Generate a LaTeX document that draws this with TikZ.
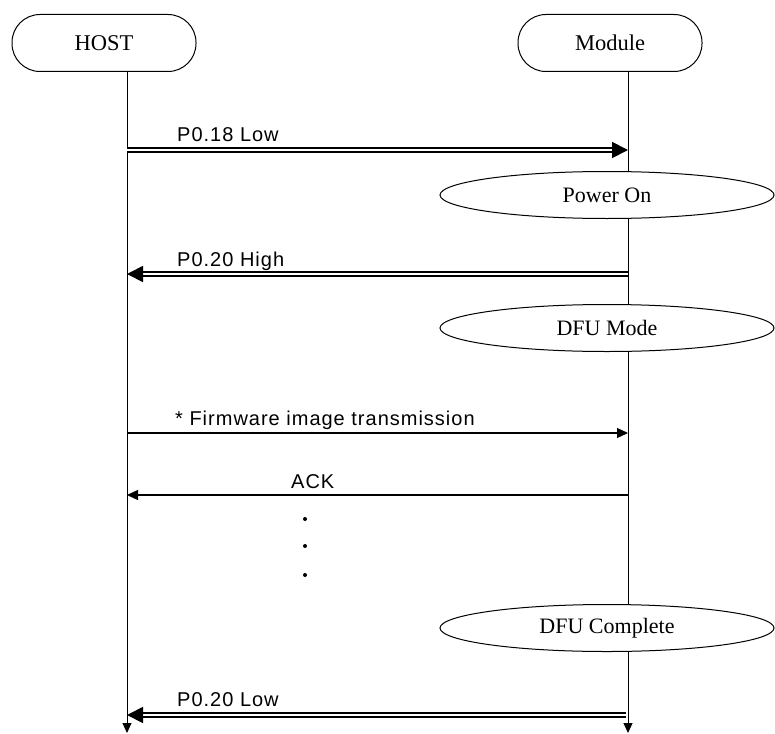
\documentclass[tikz,border=0pt]{standalone}
\usepackage{fontspec}
\setmainfont{Liberation Serif}
\newfontfamily\lblfont[LetterSpace=5]{Liberation Sans}
\usetikzlibrary{arrows.meta,shapes.geometric}

\begin{document}
\begin{tikzpicture}[x=1pt, y=-1pt,
  actor/.style={draw, line width=1pt, rounded corners=28pt, minimum width=184pt, minimum height=57pt, font=\fontsize{22.5}{26}\selectfont},
  state/.style={draw, line width=1pt, fill=white, ellipse, minimum width=334pt, minimum height=47pt, inner sep=0pt, font=\fontsize{22}{26}\selectfont},
  life/.style={line width=1pt, -{Triangle[length=10pt, width=9pt]}},
  sig/.style={double, double distance=1.5pt, line width=1.8pt, -{Triangle[length=16pt, width=16pt]}},
  msg/.style={line width=1.2pt, -{Triangle[length=11pt, width=10pt]}},
  lbl/.style={anchor=base west, inner sep=0pt, font=\lblfont\fontsize{20}{24}\selectfont}]
\useasboundingbox (0,0) rectangle (775,733);

% lifelines
\node[actor] (host) at (104,43) {HOST};
\node[actor] (module) at (610,43) {Module};
\coordinate (hostend) at (127,733);
\coordinate (modend) at (628,733);
\draw[life] (host.south -| hostend) -- (hostend);
\draw[life] (module.south -| modend) -- (modend);

% P0.18 low
\coordinate (h1) at (127,150);
\coordinate (m1) at (628,150);
\draw[sig] (h1) -- (m1);
\node[lbl] (l1) at (177,141) {P0.18 Low};

\node[state] (pwr) at (607,195) {Power On};

% P0.20 high
\coordinate (h2) at (127,274);
\coordinate (m2) at (628,274);
\draw[sig] (m2) -- (h2);
\node[lbl] (l2) at (177,266) {P0.20 High};

\node[state] (dfu) at (607,328) {DFU Mode};

% firmware
\coordinate (h3) at (127,433);
\coordinate (m3) at (628,433);
\draw[msg] (h3) -- (m3);
\node[lbl] (l3) at (175,425) {* Firmware image transmission};

\coordinate (h4) at (127,495);
\coordinate (m4) at (628,495);
\draw[msg] (m4) -- (h4);
\node[lbl] (l4) at (291,488) {ACK};

\foreach \y in {519,546,575}
  \fill (305,\y) circle [radius=2pt];

\node[state] (done) at (607,628) {DFU Complete};

% P0.20 low
\coordinate (h5) at (127,715);
\coordinate (m5) at (626,715);
\draw[sig] (m5) -- (h5);
\node[lbl] (l5) at (177,706) {P0.20 Low};
\end{tikzpicture}
\end{document}
